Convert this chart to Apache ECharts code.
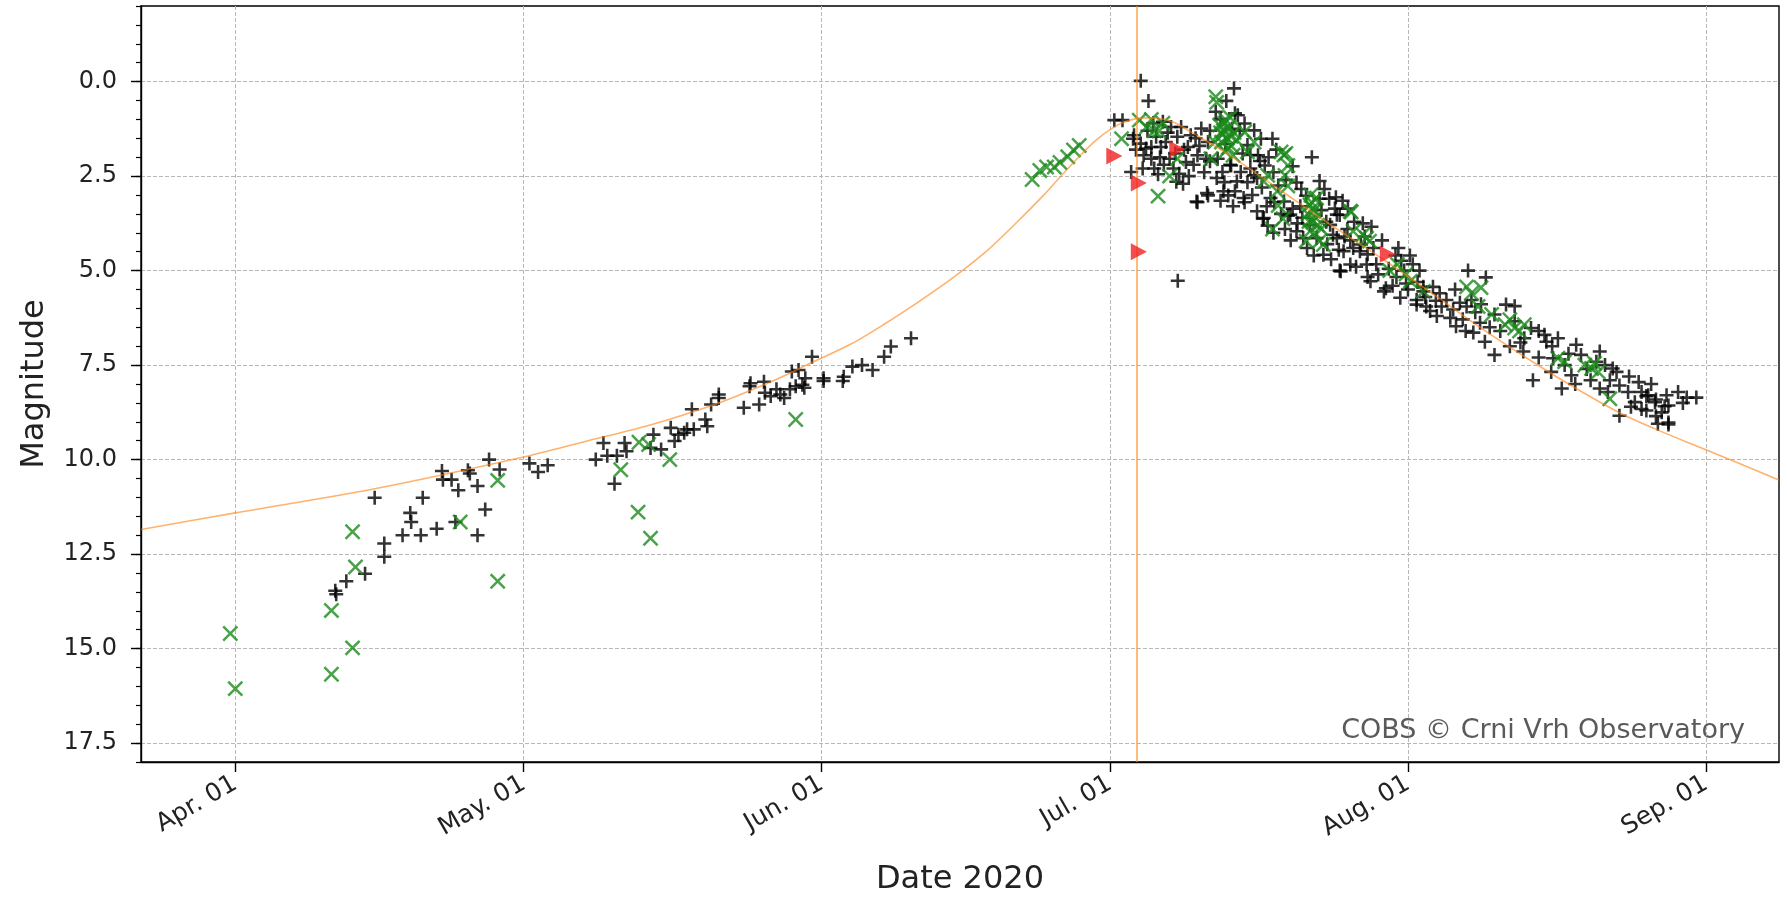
<!DOCTYPE html>
<html>
<head>
<meta charset="utf-8">
<title>Comet light curve 2020</title>
<script src="https://cdn.jsdelivr.net/npm/echarts@6/dist/echarts.min.js"></script>
<style>
  html, body { margin: 0; padding: 0; background: #fff; }
  #chart { width: 1787px; height: 908px; }
</style>
</head>
<body>
<div id="chart"></div>
<script>
// x values are day of year 2020 (Jan 01 = 1), y values are magnitudes
const monthTicks = [92, 122, 153, 183, 214, 245];
const monthLabels = ['Apr. 01', 'May. 01', 'Jun. 01', 'Jul. 01', 'Aug. 01', 'Sep. 01'];
const magTicks = [0, 2.5, 5, 7.5, 10, 12.5, 15, 17.5];
const magMinorTicks = [-2, -1.5, -1, -0.5, 0, 0.5, 1, 1.5, 2, 2.5, 3, 3.5, 4, 4.5, 5, 5.5, 6, 6.5, 7, 7.5,
  8, 8.5, 9, 9.5, 10, 10.5, 11, 11.5, 12, 12.5, 13, 13.5, 14, 14.5, 15, 15.5, 16, 16.5, 17, 17.5, 18];
const perihelionDay = 185.8;

// fitted curve
const fitCurve = [
  [82.2, 11.85], [92, 11.41], [106.5, 10.77], [122, 9.93], [128.7, 9.5], [134.7, 9.12],
  [142.3, 8.5], [147.9, 7.92], [152, 7.43], [156, 6.95], [159.5, 6.42], [163, 5.84],
  [166.5, 5.22], [170, 4.52], [173, 3.8], [176, 3.03], [178, 2.47], [180, 1.93],
  [181.5, 1.56], [183, 1.27], [184.5, 1.07], [186.5, 0.96], [188, 0.97], [189.7, 1.08],
  [191.4, 1.33], [194.9, 1.86], [198.4, 2.46], [201.9, 3.08], [206.5, 3.88], [211.4, 4.7],
  [216.5, 5.6], [221.5, 6.5], [227.2, 7.45], [231.5, 8.12], [236, 8.76], [240, 9.22],
  [245, 9.74], [252.6, 10.54]
];

// black "+" observations
const blackPlus = [
  [102.4, 13.47], [102.5, 13.56], [103.55, 13.22], [105.5, 13.02], [106.5, 11.01], [107.5, 12.22],
  [107.5, 12.57], [109.4, 12.0], [110.2, 11.41], [110.3, 11.65], [111.3, 12.0], [111.5, 11.01],
  [112.95, 11.83], [113.5, 10.3], [113.6, 10.53], [114.5, 10.53], [114.9, 11.65], [115.2, 10.81],
  [116.2, 10.28], [116.4, 10.37], [117.2, 10.7], [117.2, 12.0], [118.0, 11.32], [118.4, 10.0],
  [119.5, 10.26], [122.6, 10.1], [123.5, 10.33], [124.5, 10.15], [129.5, 10.0],
  [130.3, 9.56], [130.7, 9.9], [131.45, 10.64], [131.7, 9.9], [132.5, 9.56], [132.7, 9.78],
  [135.2, 9.69], [135.5, 9.34], [136.3, 9.73], [137.3, 9.16], [137.7, 9.51], [138.1, 9.34],
  [138.7, 9.29], [139.0, 9.2], [139.7, 9.2], [139.5, 8.67], [140.9, 8.94], [141.1, 9.12],
  [141.5, 8.54], [142.3, 8.37], [142.3, 8.28], [144.9, 8.63], [145.5, 8.06], [146.5, 8.54],
  [147.1, 8.23], [147.7, 8.32], [148.3, 8.14], [148.7, 8.28], [149.1, 8.37], [149.7, 8.14],
  [150.3, 8.06], [151.0, 8.02], [151.2, 8.1], [153.2, 7.92], [155.2, 7.92],
  [145.6, 7.98], [147.0, 7.94], [149.9, 7.67], [150.6, 7.63], [151.3, 7.85], [152.0, 7.28],
  [153.2, 7.85], [155.3, 7.81], [156.2, 7.54], [157.2, 7.5], [158.3, 7.63], [159.5, 7.28],
  [160.2, 7.01], [162.3, 6.79],
  [183.45, 1.02], [184.3, 1.02], [185.2, 2.39], [186.2, -0.02], [187.0, 0.51], [190.05, 5.27],
  [191.4, 1.42], [192.5, 1.24], [193.2, 1.6], [192.1, 1.95], [191.1, 1.73], [190.0, 1.46],
  [189.35, 1.2], [188.5, 1.06], [187.8, 1.46], [187.3, 1.73], [186.75, 1.77], [188.3, 1.73],
  [189.2, 2.04], [190.2, 2.44], [187.3, 2.04], [186.2, 1.64], [185.5, 1.42], [185.4, 1.51],
  [190.9, 2.13], [193.0, 2.04], [188.8, 1.6], [189.8, 1.9], [186.5, 1.95], [191.9, 1.5],
  [187.6, 2.3], [188.0, 2.45], [188.6, 2.2], [189.0, 1.35], [189.6, 2.3], [190.4, 1.2],
  [190.7, 1.8], [191.2, 2.5], [191.7, 2.2], [192.3, 1.7], [192.8, 2.4], [193.4, 1.3],
  [186.9, 1.3], [187.5, 1.1], [188.2, 2.0], [189.9, 2.65], [190.6, 2.7], [185.7, 1.8],
  [186.4, 2.3],
  [192.0, 3.17], [193.1, 2.95], [195.9, 0.18], [195.1, 0.51], [194.0, 0.8], [196.0, 0.84],
  [196.3, 0.89], [197.0, 1.11], [198.0, 1.29], [198.7, 1.51], [199.9, 1.51], [197.3, 1.68],
  [198.4, 1.95], [194.2, 2.04], [194.7, 2.39], [195.6, 2.22], [196.6, 2.39], [197.3, 2.66],
  [198.0, 2.48], [199.1, 2.22], [194.9, 2.66], [195.3, 3.01], [197.0, 3.19], [193.2, 3.01],
  [192.1, 3.19], [198.9, 3.63], [199.4, 3.81], [201.2, 3.9], [201.5, 3.55], [200.1, 3.19],
  [200.5, 2.75], [193.4, 2.11], [194.1, 2.55], [194.8, 2.9], [195.5, 2.2], [196.2, 2.64],
  [196.9, 3.08], [198.3, 3.43], [199.0, 3.61], [198.3, 2.55], [197.6, 1.94], [199.7, 3.08],
  [194.5, 1.0], [195.0, 1.65], [195.7, 1.25], [196.5, 1.3], [196.8, 1.9], [197.6, 2.3],
  [198.6, 2.1], [198.8, 2.8], [199.5, 2.0], [200.0, 2.4], [200.3, 1.8], [196.0, 2.9],
  [197.8, 3.0], [199.3, 3.3], [200.8, 3.5], [195.8, 3.3], [194.5, 3.15], [200.0, 4.0],
  [201.8, 4.2], [201.3, 2.6],
  [201.1, 3.17], [201.75, 3.52], [202.4, 3.96], [203.1, 4.14], [203.8, 3.79], [204.5, 4.14],
  [205.2, 4.58], [205.9, 3.79], [206.6, 3.52], [206.6, 4.14], [207.3, 4.49], [208.0, 4.84],
  [207.0, 5.02], [209.0, 4.49], [209.7, 4.84], [210.1, 5.28], [211.5, 5.55], [213.2, 5.72],
  [214.9, 5.9], [215.6, 5.55], [216.3, 6.07],
  [204.0, 2.0], [202.0, 2.24], [202.4, 2.67], [202.9, 2.84], [204.8, 2.63], [205.3, 2.84],
  [202.0, 3.36], [202.5, 3.75], [203.4, 3.02], [205.8, 3.1], [206.5, 3.06], [207.2, 3.15],
  [206.4, 3.36], [206.9, 3.53], [207.75, 3.36], [208.4, 3.71], [209.3, 3.75], [210.2, 3.84],
  [205.5, 3.71], [206.2, 4.05], [207.4, 4.1], [208.3, 4.4], [209.1, 4.31], [209.8, 4.57],
  [206.9, 5.0], [209.8, 5.17], [210.7, 4.83], [213.0, 4.4], [213.3, 4.74], [214.5, 4.83],
  [215.2, 5.0], [211.7, 5.47], [212.8, 5.17], [213.8, 5.34], [215.6, 5.43], [214.9, 5.78],
  [216.6, 5.43], [217.3, 5.6], [218.0, 5.78], [215.9, 5.95], [218.7, 6.03], [219.7, 6.29],
  [219.0, 6.47], [220.25, 5.0], [220.6, 5.78], [220.1, 5.95], [221.5, 6.38], [220.8, 6.64],
  [202.8, 3.3], [203.5, 4.4], [204.2, 4.6], [205.0, 3.4], [205.6, 4.3], [206.0, 4.7],
  [206.8, 4.45], [207.7, 3.9], [208.0, 4.2], [208.6, 4.9], [209.5, 4.1], [210.4, 4.4],
  [210.9, 5.1], [211.3, 4.2], [212.0, 4.95], [212.4, 5.4], [212.7, 4.6], [213.6, 5.0],
  [214.0, 5.5], [204.8, 3.1], [203.0, 3.6],
  [214.2, 4.6], [215.0, 5.3], [215.8, 5.7], [216.9, 5.8], [217.5, 5.95], [217.0, 6.2],
  [218.4, 6.25], [218.9, 5.5], [219.4, 5.85], [220.0, 6.6], [221.0, 6.1], [222.5, 6.5],
  [223.6, 6.6], [224.2, 5.9], [224.6, 7.0], [225.7, 6.9], [227.6, 7.3], [227.6, 6.6],
  [222.1, 5.18], [221.6, 5.89], [223.0, 6.16], [222.0, 6.88], [223.0, 7.23], [225.1, 5.94],
  [225.1, 6.34], [226.1, 6.79], [226.8, 6.52], [226.0, 7.14], [227.0, 7.9], [228.2, 6.7],
  [228.4, 6.88], [229.6, 6.79], [229.1, 7.32], [228.9, 7.68], [230.0, 8.12], [231.0, 7.77],
  [231.5, 6.96], [232.0, 7.23], [233.95, 7.14], [233.6, 7.41], [235.3, 7.59], [235.7, 7.68],
  [236.0, 8.04], [233.95, 8.12], [234.8, 8.21], [236.9, 8.21], [238.0, 7.95], [238.3, 8.21],
  [239.0, 8.3], [239.7, 8.48], [237.6, 8.48], [238.3, 8.66], [240.4, 8.75], [241.1, 8.57],
  [242.1, 8.21], [241.1, 9.02], [236.0, 8.84], [230.3, 7.5],
  [229.0, 7.0], [230.7, 7.2], [231.4, 8.0], [232.6, 7.6], [233.0, 7.9], [234.5, 7.5],
  [235.0, 7.9], [237.0, 7.8], [237.2, 8.6], [238.8, 8.7], [239.3, 8.0], [240.0, 9.05],
  [240.9, 8.3], [242.6, 8.5],
  [239.8, 8.41], [240.7, 8.59], [239.8, 8.85], [241.1, 9.07], [243.0, 8.36], [244.0, 8.36],
  [238.8, 8.32]
];

// green "x" observations
const greenCross = [
  [91.48, 14.6], [92.0, 16.06], [102.0, 13.99], [102.0, 15.68], [104.2, 11.91], [104.5, 12.84],
  [104.2, 14.98], [115.4, 11.65], [119.3, 10.55], [119.3, 13.22],
  [132.1, 10.27], [134.0, 9.54], [135.0, 9.6], [133.9, 11.39], [135.2, 12.08], [137.2, 10.0],
  [150.3, 8.94],
  [174.9, 2.59], [175.7, 2.35], [176.4, 2.26], [177.2, 2.26], [177.8, 2.14], [178.6, 1.99],
  [179.2, 1.81], [179.8, 1.69],
  [184.2, 1.51], [186.05, 1.02], [188.0, 3.03], [188.1, 1.31], [190.0, 2.04], [186.8, 1.2],
  [187.3, 1.0], [187.6, 1.3], [188.5, 1.1], [189.2, 2.5],
  [194.0, 0.4], [194.1, 0.55], [194.4, 1.15], [194.8, 1.3], [195.2, 1.5], [195.6, 1.7],
  [195.9, 1.35], [194.6, 1.6], [195.0, 1.85], [195.4, 1.2], [195.8, 1.95], [196.2, 1.55],
  [195.0, 1.0], [195.5, 0.95], [194.7, 1.4], [195.3, 1.75], [194.9, 1.1], [195.6, 1.45],
  [195.2, 1.25], [194.5, 1.35],
  [197.0, 1.33], [198.0, 1.6], [193.9, 1.6], [193.5, 2.04], [197.3, 1.86], [199.4, 2.48],
  [200.8, 1.86], [199.9, 3.9], [201.0, 3.63], [200.5, 3.28], [201.2, 2.48], [201.5, 2.22],
  [199.0, 2.64], [200.4, 2.9], [201.1, 1.94], [203.8, 3.26], [204.2, 3.43], [204.5, 3.08],
  [203.8, 3.96], [205.2, 4.31], [208.0, 3.43], [208.3, 3.96], [209.7, 4.14], [212.9, 4.84],
  [214.25, 5.28], [215.6, 5.55],
  [201.3, 1.9], [201.5, 2.76], [204.1, 3.36], [204.1, 3.71], [203.4, 4.22], [204.8, 4.22],
  [208.1, 3.45], [209.3, 4.05], [210.0, 4.22], [212.1, 5.0], [213.8, 5.09], [220.1, 5.43],
  [220.6, 5.6], [221.3, 5.95], [203.6, 3.5], [204.4, 3.6], [204.0, 3.2], [203.9, 3.0],
  [204.6, 3.8], [203.7, 3.7], [204.3, 4.0], [205.0, 3.9],
  [221.6, 5.45], [222.7, 6.16], [224.1, 6.43], [225.1, 6.52], [226.1, 6.43], [229.6, 7.32],
  [230.3, 7.41], [232.4, 7.5], [233.1, 7.59], [233.8, 7.68], [235.0, 8.39], [224.6, 6.3],
  [225.6, 6.6], [233.4, 7.45]
];

// red triangles
const redTriangle = [[183.45, 1.97], [186.0, 2.68], [186.0, 4.5], [190.0, 1.79], [211.9, 4.57]];

const plusPath = 'path://M4.9,0H7.1V4.9H12V7.1H7.1V12H4.9V7.1H0V4.9H4.9Z';
const thinPlusPath = 'path://M5.25,0H6.75V5.25H12V6.75H6.75V12H5.25V6.75H0V5.25H5.25Z';
const fontFamily = '"DejaVu Sans", sans-serif';
const gridLine = { show: true, lineStyle: { color: '#b8b8b8', width: 1, type: [4, 2] } };

const chart = echarts.init(document.getElementById('chart'));
chart.setOption({
  animation: false,
  backgroundColor: '#fff',
  textStyle: { fontFamily: fontFamily },
  grid: {
    left: 141, right: 8, top: 6, bottom: 146,
    show: true, borderColor: '#000', borderWidth: 1.4,
    containLabel: false, outerBoundsMode: 'none'
  },
  xAxis: {
    type: 'value',
    min: 82.19, max: 252.6,
    name: 'Date 2020',
    nameLocation: 'middle',
    nameGap: 102,
    nameTextStyle: { fontSize: 32, color: '#222', fontFamily: fontFamily },
    axisLine: { onZero: false, lineStyle: { color: '#000', width: 1.4 } },
    axisTick: { length: 10, customValues: monthTicks, lineStyle: { color: '#000', width: 1.4 } },
    axisLabel: {
      customValues: monthTicks,
      rotate: 30, margin: 20, fontSize: 25, color: '#222',
      formatter: function (v) { return monthLabels[monthTicks.indexOf(v)] || ''; }
    },
    splitLine: gridLine
  },
  yAxis: [{
    type: 'value',
    min: -2, max: 18, inverse: true,
    position: 'left',
    name: 'Magnitude',
    nameLocation: 'middle',
    nameRotate: 90,
    nameGap: 90,
    nameTextStyle: { fontSize: 32, color: '#222', fontFamily: fontFamily },
    axisLine: { show: true, onZero: false, lineStyle: { color: '#000', width: 1.4 } },
    axisTick: { show: true, length: 10, customValues: magTicks, lineStyle: { color: '#000', width: 1.4 } },
    axisLabel: {
      customValues: magTicks, margin: 24, fontSize: 24, color: '#222',
      formatter: function (v) { return v.toFixed(1); }
    },
    splitLine: gridLine
  }, {
    type: 'value',
    min: -2, max: 18, inverse: true,
    position: 'left', offset: 0,
    axisLine: { show: false, onZero: false },
    axisTick: { show: true, length: 5, customValues: magMinorTicks, lineStyle: { color: '#000', width: 1.2 } },
    axisLabel: { show: false },
    splitLine: { show: false }
  }],
  graphic: [{
    type: 'text',
    right: 42, top: 717,
    style: { text: 'COBS \u00a9 Crni Vrh Observatory', fontSize: 27, fontFamily: fontFamily, fill: '#5a5a5a' }
  }],
  series: [
    {
      name: 'visual',
      type: 'scatter',
      data: blackPlus,
      symbol: plusPath,
      symbolSize: 14,
      itemStyle: { color: '#000' },
      z: 2
    },
    {
      name: 'ccd',
      type: 'scatter',
      data: greenCross,
      symbol: thinPlusPath,
      symbolSize: 20,
      symbolRotate: 45,
      itemStyle: { color: '#1c8a1c' },
      z: 3
    },
    {
      name: 'fit',
      type: 'line',
      data: fitCurve,
      showSymbol: false,
      smooth: 0.3,
      lineStyle: { color: 'rgba(255,127,14,0.6)', width: 1.6 },
      markLine: {
        silent: true,
        symbol: 'none',
        label: { show: false },
        lineStyle: { color: 'rgba(255,140,30,0.75)', width: 1.6, type: 'solid' },
        data: [{ xAxis: perihelionDay }]
      },
      z: 4
    },
    {
      name: 'other',
      type: 'scatter',
      data: redTriangle,
      symbol: 'path://M0,0L10,5L0,10Z',
      symbolSize: [16, 17],
      itemStyle: { color: '#f02020' },
      z: 5
    }
  ]
});
</script>
</body>
</html>
